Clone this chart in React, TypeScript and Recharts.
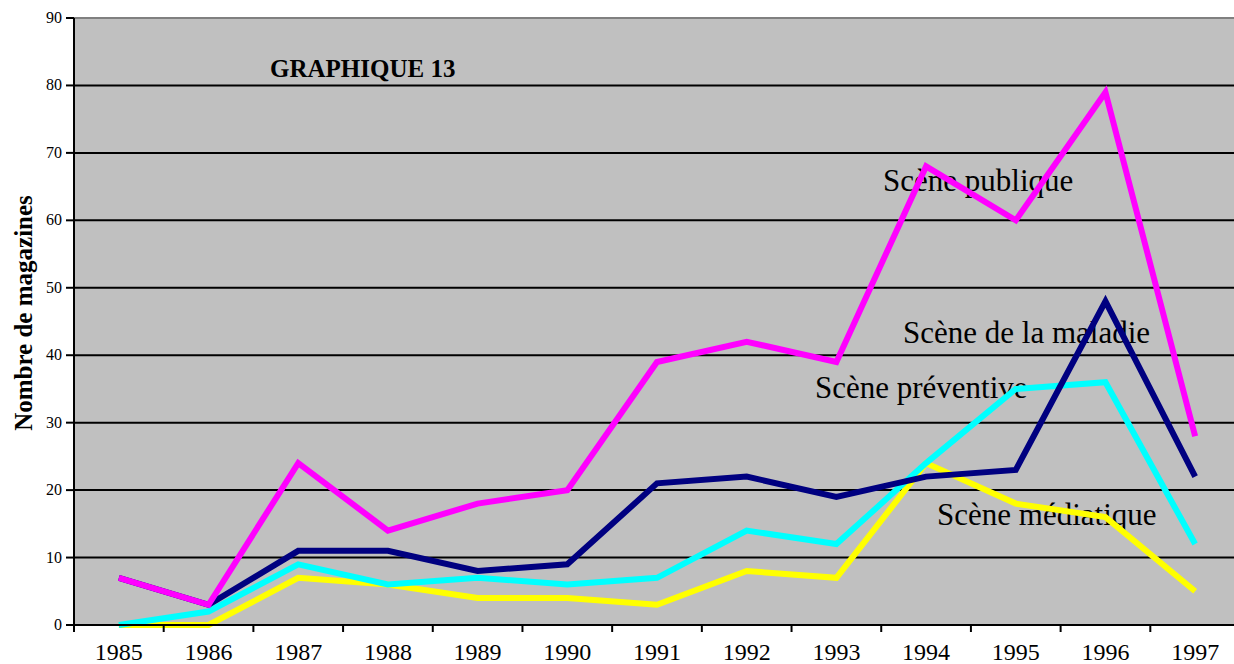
import React from "react";
import { LineChart, Line, XAxis, YAxis, CartesianGrid, ReferenceLine } from "recharts";

const years = ["1985", "1986", "1987", "1988", "1989", "1990", "1991", "1992", "1993", "1994", "1995", "1996", "1997"];
const scenePublique = [7, 3, 24, 14, 18, 20, 39, 42, 39, 68, 60, 79, 28];
const sceneMaladie = [7, 3, 11, 11, 8, 9, 21, 22, 19, 22, 23, 48, 22];
const scenePreventive = [0, 2, 9, 6, 7, 6, 7, 14, 12, 24, 35, 36, 12];
const sceneMediatique = [0, 0, 7, 6, 4, 4, 3, 8, 7, 24, 18, 16, 5];
const yTicks = [0, 10, 20, 30, 40, 50, 60, 70, 80, 90];

const data = years.map((year, i) => ({
  year,
  publique: scenePublique[i],
  maladie: sceneMaladie[i],
  preventive: scenePreventive[i],
  mediatique: sceneMediatique[i],
}));

const FONT = "'Liberation Serif', 'Times New Roman', serif";
const CHART_W = 1240;
const CHART_H = 664;
const PLOT_LEFT = 74;
const PLOT_TOP = 18;
const PLOT_BOTTOM = 625;
const PLOT_W = CHART_W - PLOT_LEFT;
const STEP = PLOT_W / years.length;

const YearTick = ({ x, y, payload }: any) => (
  <g>
    <line x1={x - STEP / 2} y1={y} x2={x - STEP / 2} y2={y + 7} stroke="#000" strokeWidth={2} />
    <text x={x} y={y + 35} textAnchor="middle" fontSize={24} fontFamily={FONT} fill="#000">
      {payload.value}
    </text>
  </g>
);

const ValueTick = ({ x, y, payload }: any) => (
  <text x={x} y={y} dy={5} textAnchor="end" fontSize={16} fontFamily={FONT} fill="#000">
    {payload.value}
  </text>
);

const annotations = [
  { text: "Scène publique", x: 883, y: 191 },
  { text: "Scène de la maladie", x: 903, y: 343 },
  { text: "Scène préventive", x: 815, y: 398 },
  { text: "Scène médiatique", x: 937, y: 525 },
];

export default function App() {
  return (
    <div
      style={{
        position: "fixed",
        left: 0,
        top: 0,
        width: 1234,
        height: 664,
        overflow: "hidden",
        background: "#fff",
        fontFamily: FONT,
      }}
    >
      <div style={{ position: "relative", width: CHART_W, height: CHART_H }}>
        {/* plot background and labels sit under the series */}
        <svg width={CHART_W} height={CHART_H} style={{ position: "absolute", left: 0, top: 0 }}>
          <rect x={PLOT_LEFT} y={PLOT_TOP} width={PLOT_W} height={PLOT_BOTTOM - PLOT_TOP} fill="#C0C0C0" />
          <text x={270} y={77} fontSize={25} fontWeight="bold" fontFamily={FONT} fill="#000">
            GRAPHIQUE 13
          </text>
          {annotations.map((a) => (
            <text key={a.text} x={a.x} y={a.y} fontSize={31} fontFamily={FONT} fill="#000">
              {a.text}
            </text>
          ))}
          <text
            x={23}
            y={313}
            transform="rotate(-90, 23, 313)"
            textAnchor="middle"
            dominantBaseline="central"
            fontSize={25}
            fontWeight="bold"
            fontFamily={FONT}
            fill="#000"
          >
            Nombre de magazines
          </text>
        </svg>
        <div style={{ position: "absolute", left: 0, top: 0 }}>
          <LineChart
            width={CHART_W}
            height={CHART_H}
            data={data}
            margin={{ top: PLOT_TOP, right: 0, bottom: 0, left: 0 }}
            style={{ fontFamily: FONT }}
          >
            <CartesianGrid vertical={false} stroke="#000" strokeWidth={2} fill="none" />
            <XAxis
              dataKey="year"
              height={CHART_H - PLOT_BOTTOM}
              padding={{ left: STEP / 2, right: STEP / 2 }}
              interval={0}
              tickLine={false}
              tickSize={0}
              tickMargin={0}
              axisLine={{ stroke: "#000", strokeWidth: 2 }}
              tick={<YearTick />}
            />
            <YAxis
              width={PLOT_LEFT}
              domain={[0, 90]}
              ticks={yTicks}
              interval={0}
              tickSize={8}
              tickMargin={4}
              axisLine={{ stroke: "#000", strokeWidth: 2 }}
              tickLine={{ stroke: "#000", strokeWidth: 2 }}
              tick={<ValueTick />}
            />
            <ReferenceLine y={90} stroke="#808080" strokeWidth={2} />
            <Line type="linear" dataKey="mediatique" stroke="#FFFF00" strokeWidth={6} dot={false} isAnimationActive={false} />
            <Line type="linear" dataKey="preventive" stroke="#00FFFF" strokeWidth={6} dot={false} isAnimationActive={false} />
            <Line type="linear" dataKey="maladie" stroke="#000080" strokeWidth={6} dot={false} isAnimationActive={false} />
            <Line type="linear" dataKey="publique" stroke="#FF00FF" strokeWidth={6} dot={false} isAnimationActive={false} />
          </LineChart>
        </div>
      </div>
    </div>
  );
}
